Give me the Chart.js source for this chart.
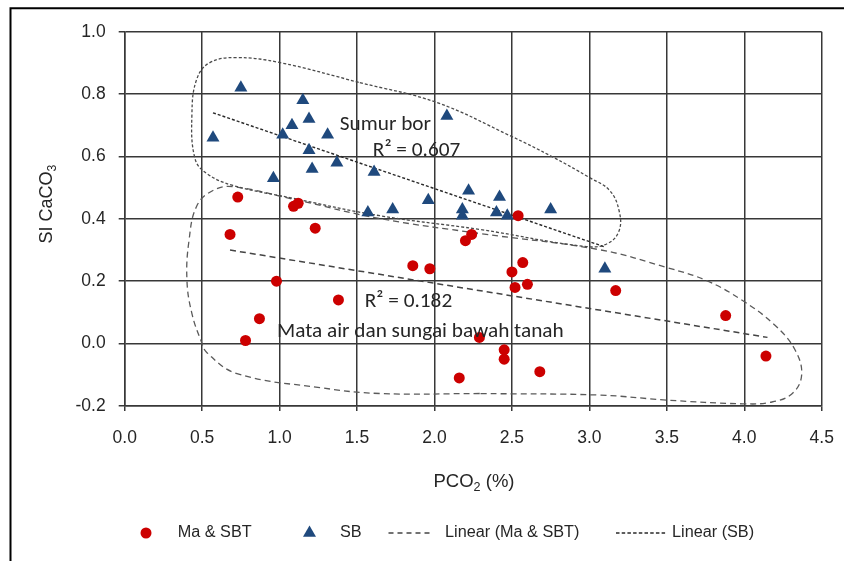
<!DOCTYPE html>
<html><head><meta charset="utf-8">
<script src="https://cdn.jsdelivr.net/npm/chart.js@4/dist/chart.umd.min.js"></script>
<style>html,body{margin:0;padding:0;background:#fff;}canvas{display:block;}</style>
</head><body>
<canvas id="c" width="844" height="561"></canvas>
<script>
// ---- data ----
const maX = [0.73,1.09,1.12,0.68,1.23,0.98,1.38,0.87,0.78,2.54,2.24,2.20,1.86,1.97,2.57,2.50,2.52,2.60,3.17,2.29,2.45,2.45,2.68,2.16,3.88,4.14];
const maY = [0.47,0.44,0.45,0.35,0.37,0.20,0.14,0.08,0.01,0.41,0.35,0.33,0.25,0.24,0.26,0.23,0.18,0.19,0.17,0.02,-0.02,-0.05,-0.09,-0.11,0.09,-0.04];
const sbX = [0.57,0.75,0.96,1.02,1.08,1.15,1.19,1.19,1.21,1.31,1.37,1.57,1.61,1.73,1.96,2.08,2.18,2.18,2.22,2.40,2.42,2.47,2.75,3.10];
const sbY = [0.66,0.82,0.53,0.67,0.70,0.78,0.72,0.62,0.56,0.67,0.58,0.42,0.55,0.43,0.46,0.73,0.43,0.41,0.49,0.42,0.47,0.41,0.43,0.24];
const trendMaX = [0.68, 4.15];
const trendMaY = [0.30, 0.02];
const trendSbX = [0.57, 3.10];
const trendSbY = [0.74, 0.31];
// hand-drawn envelopes (data coordinates)
const envSbX = [1.518,2.015,2.486,2.757,3.002,3.131,3.192,3.192,3.118,2.983,2.292,1.647,1.066,0.699,0.531,0.454,0.434,0.466,0.550,0.718,1.002,1.518];
const envSbY = [0.837,0.773,0.667,0.600,0.532,0.491,0.426,0.362,0.321,0.311,0.366,0.410,0.468,0.507,0.545,0.593,0.737,0.849,0.901,0.917,0.901,0.837];
const envMaX = [2.292,1.647,1.260,0.725,0.531,0.492,0.434,0.402,0.415,0.466,0.570,0.699,1.131,1.647,2.292,3.066,3.499,3.757,3.989,4.200,4.330,4.370,4.305,4.170,3.989,3.499,3.066,2.292];
const envMaY = [-0.160,-0.160,-0.141,-0.096,-0.029,0.010,0.096,0.202,0.330,0.442,0.491,0.503,0.458,0.401,0.353,0.301,0.244,0.202,0.138,0.058,-0.022,-0.103,-0.162,-0.188,-0.193,-0.181,-0.165,-0.160];
const xTicks = [0,0.5,1.0,1.5,2.0,2.5,3.0,3.5,4.0,4.5];
const yTicks = [-0.2,0,0.2,0.4,0.6,0.8,1.0];
const seriesLabels = ['Ma & SBT','SB','Linear (Ma & SBT)','Linear (SB)'];
const xTitle = ['PCO','2',' (%)'];
const yTitle = ['SI CaCO','3',''];
const notes = [
  {text:'Sumur bor', x:1.389, y:0.702},
  {text:'R\u00B2 = 0.607', x:1.602, y:0.619},
  {text:'R\u00B2 = 0.182', x:1.550, y:0.135},
  {text:'Mata air dan sungai bawah tanah', x:0.983, y:0.038}
];

// ---- styles ----
const RED = '#CC0000', BLUE = '#1F497D', GRID = '#383838', TXT = '#262626';
const mctx = document.createElement('canvas').getContext('2d');
function hasFont(f){ mctx.font='40px monospace'; const a=mctx.measureText('abcdefgWMil0.5').width; mctx.font='40px "'+f+'", monospace'; return mctx.measureText('abcdefgWMil0.5').width!==a; }
const AX = '"Liberation Sans", Arial, sans-serif';
const NOTEF = hasFont('Carlito') ? 'Carlito, Lato, sans-serif' : 'Lato, "Open Sans", sans-serif';
function fit(text, fam, target){ mctx.font='100px '+fam; return 100*target/mctx.measureText(text).width; }
const tickSize = 17.5;
const legSize = fit('Ma & SBT', AX, 74);
const noteSize = fit('Mata air dan sungai bawah tanah', NOTEF, 287);

const pts = (xs, ys) => xs.map((x,i)=>({x, y: ys[i]}));

const decor = {
  id:'decor',
  beforeDraw(chart){
    const c = chart.ctx; c.save(); c.fillStyle='#fff'; c.fillRect(0,0,chart.width,chart.height); c.restore();
  },
  afterDraw(chart){
    const c = chart.ctx, xs = chart.scales.x, ys = chart.scales.y;
    c.save();
    // frame
    c.strokeStyle='#000'; c.lineWidth=2;
    c.beginPath(); c.moveTo(10.5, 561); c.lineTo(10.5, 8.3); c.lineTo(844, 8.3); c.stroke();
    // annotations
    c.fillStyle=TXT; c.textBaseline='middle'; c.textAlign='left';
    c.font = noteSize+'px '+NOTEF;
    notes.forEach(n=>{ c.fillText(n.text, xs.getPixelForValue(n.x), ys.getPixelForValue(n.y)); });
    // axis titles with subscripts
    function subText(parts, size, cx, cy, rot){
      c.save(); c.translate(cx, cy); c.rotate(rot);
      c.font = size+'px '+AX; const w0 = c.measureText(parts[0]).width, w2 = c.measureText(parts[2]).width;
      c.font = (size*0.68)+'px '+AX; const w1 = c.measureText(parts[1]).width;
      const tot = w0+w1+w2; let x = -tot/2;
      c.textAlign='left'; c.textBaseline='alphabetic'; c.fillStyle=TXT;
      const base = size*0.36;
      c.font = size+'px '+AX; c.fillText(parts[0], x, base); x+=w0;
      c.font = (size*0.68)+'px '+AX; c.fillText(parts[1], x, base+size*0.22); x+=w1;
      c.font = size+'px '+AX; c.fillText(parts[2], x, base);
      c.restore();
    }
    subText(xTitle, 18.5, 474, 480, 0);
    subText(yTitle, 18, 46, 204, -Math.PI/2);
    // legend
    const ly = 533;
    const lay = [{s:146,t:177.7},{s:309.5,t:340},{s:[388.5,433],t:445},{s:[616,667],t:672}];
    const ds = chart.data.datasets;
    c.font = legSize+'px '+AX; c.textBaseline='middle'; c.textAlign='left'; c.fillStyle=TXT;
    lay.forEach((L,i)=>{
      const d = ds[i];
      if (Array.isArray(L.s)) {
        c.save(); c.strokeStyle=d.borderColor; c.lineWidth=d.borderWidth; c.setLineDash(d.legendDash||d.borderDash);
        c.beginPath(); c.moveTo(L.s[0], ly); c.lineTo(L.s[1], ly); c.stroke(); c.restore();
      } else {
        c.save(); c.fillStyle=d.backgroundColor;
        c.beginPath();
        if (d.pointStyle==='circle') c.arc(L.s, ly, d.pointRadius, 0, Math.PI*2);
        else { const r=d.pointRadius; c.moveTo(L.s, ly-r); c.lineTo(L.s+r*Math.sqrt(3)/2, ly+r/2); c.lineTo(L.s-r*Math.sqrt(3)/2, ly+r/2); c.closePath(); }
        c.fill(); c.restore();
      }
      c.fillStyle=TXT; c.fillText(d.label, L.t, ly);
    });
    c.restore();
  }
};

new Chart(document.getElementById('c'), {
  type:'scatter',
  data:{datasets:[
    {label:seriesLabels[0], data:pts(maX,maY), pointStyle:'circle', pointRadius:5.5, pointHoverRadius:5.5, backgroundColor:RED, borderColor:RED, borderWidth:0},
    {label:seriesLabels[1], data:pts(sbX,sbY), pointStyle:'triangle', pointRadius:7.5, pointHoverRadius:7.5, backgroundColor:BLUE, borderColor:BLUE, borderWidth:0},
    {label:seriesLabels[2], data:pts(trendMaX,trendMaY), showLine:true, pointRadius:0, borderColor:'#444', borderWidth:1.5, borderDash:[6,4], legendDash:[5,4]},
    {label:seriesLabels[3], data:pts(trendSbX,trendSbY), showLine:true, pointRadius:0, borderColor:'#2a2a2a', borderWidth:1.4, borderDash:[3,2], legendDash:[3.5,2.2]},
    {label:'envSB', data:pts(envSbX,envSbY), showLine:true, tension:0.4, pointRadius:0, borderColor:'#4a4a4a', borderWidth:1.3, borderDash:[3,2]},
    {label:'envMa', data:pts(envMaX,envMaY), showLine:true, tension:0.4, pointRadius:0, borderColor:'#5a5a5a', borderWidth:1.3, borderDash:[6,4]}
  ]},
  options:{
    responsive:false, animation:false, devicePixelRatio:1,
    layout:{padding:{top:31.7, right:22.3, left:0, bottom:0}},
    plugins:{legend:{display:false}, tooltip:{enabled:false}},
    scales:{
      x:{type:'linear', min:0, max:4.5,
        afterBuildTicks:s=>{ s.ticks = xTicks.map(v=>({value:v})); },
        afterFit:s=>{ s.height = 155; s.paddingLeft = 0; s.paddingRight = 0; },
        grid:{color:GRID, lineWidth:1.5, tickLength:5},
        border:{color:GRID, width:1.5},
        ticks:{color:TXT, font:{family:AX, size:tickSize}, padding:17, maxRotation:0, autoSkip:false, callback:v=>Number(v).toFixed(1)}
      },
      y:{type:'linear', min:-0.2, max:1.0,
        afterBuildTicks:s=>{ s.ticks = yTicks.map(v=>({value:v})); },
        afterFit:s=>{ s.width = 124.7; },
        grid:{color:GRID, lineWidth:1.5, tickLength:6},
        border:{color:GRID, width:1.5},
        ticks:{color:TXT, font:{family:AX, size:tickSize}, padding:13, autoSkip:false, callback:v=>Number(v).toFixed(1)}
      }
    }
  },
  plugins:[decor]
});
</script>
</body></html>
